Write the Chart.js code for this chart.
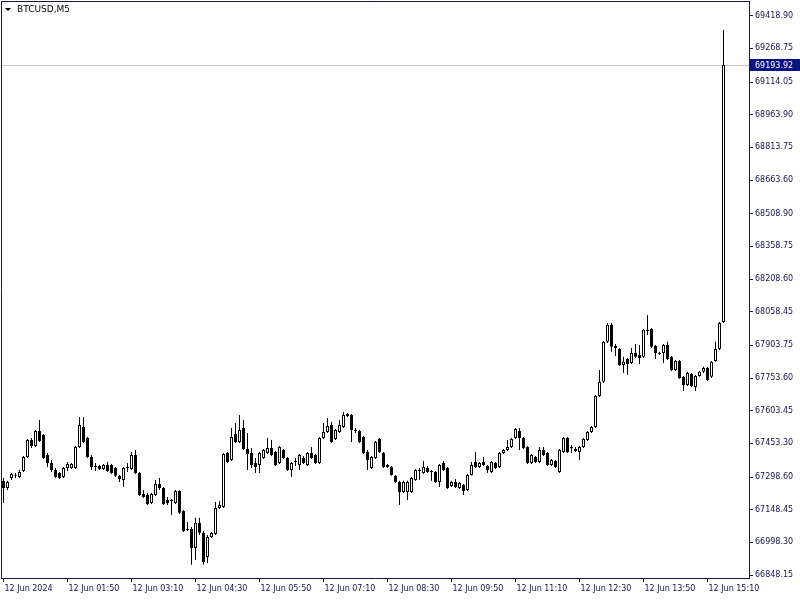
<!DOCTYPE html>
<html>
<head>
<meta charset="utf-8">
<title>BTCUSD,M5</title>
<script src="https://cdn.jsdelivr.net/npm/chart.js@4.4.1/dist/chart.umd.min.js"></script>
<style>
  html, body { margin: 0; padding: 0; background: #ffffff; }
  #wrap { width: 800px; height: 600px; }
</style>
</head>
<body>
<div id="wrap"><canvas id="chart" width="800" height="600"></canvas></div>
<script>
// BTCUSD M5 candles, 12 Jun 2024 00:30 .. 15:30 (one entry per bar)
const SYMBOL = "BTCUSD,M5";

const OPEN = [
  67281, 67248, 67294, 67304, 67299, 67326, 67391, 67469, 67441, 67510,
  67492, 67400, 67363, 67331, 67317, 67299, 67340, 67340, 67340, 67437,
  67529, 67478, 67391, 67345, 67349, 67336, 67354, 67354, 67340, 67304,
  67285, 67340, 67336, 67400, 67317, 67221, 67216, 67179, 67216, 67267,
  67248, 67193, 67193, 67179, 67235, 67143, 67060, 67060, 66973, 67088,
  67042, 66931, 67023, 67037, 67156, 67161, 67409, 67377, 67497, 67460,
  67524, 67428, 67409, 67363, 67354, 67386, 67409, 67432, 67414, 67363,
  67423, 67386, 67331, 67368, 67354, 67386, 67354, 67409, 67400, 67363,
  67478, 67506, 67538, 67474, 67506, 67529, 67579, 67584, 67515, 67510,
  67483, 67414, 67340, 67386, 67474, 67409, 67354, 67345, 67304, 67276,
  67230, 67230, 67230, 67285, 67326, 67317, 67340, 67326, 67322, 67276,
  67363, 67340, 67258, 67276, 67248, 67262, 67239, 67308, 67368, 67345,
  67368, 67349, 67322, 67363, 67345, 67409, 67423, 67437, 67478, 67510,
  67478, 67437, 67363, 67391, 67368, 67423, 67409, 67354, 67372, 67322,
  67414, 67478, 67432, 67428, 67414, 67437, 67469, 67506, 67529, 67671,
  67736, 67920, 67998, 67901, 67887, 67814, 67841, 67823, 67869, 67860,
  67851, 67975, 67979, 67901, 67869, 67869, 67906, 67851, 67791, 67832,
  67759, 67722, 67772, 67713, 67763, 67782, 67800, 67759, 67832, 67887,
  68011
];
const HIGH = [
  67294, 67281, 67317, 67317, 67331, 67395, 67474, 67478, 67515, 67561,
  67497, 67409, 67377, 67340, 67322, 67345, 67368, 67363, 67441, 67575,
  67575, 67483, 67400, 67363, 67354, 67359, 67368, 67359, 67345, 67308,
  67345, 67363, 67414, 67423, 67322, 67239, 67225, 67225, 67285, 67294,
  67253, 67207, 67198, 67239, 67239, 67147, 67092, 67069, 67111, 67111,
  67051, 67032, 67046, 67184, 67189, 67409, 67414, 67524, 67547, 67584,
  67561, 67501, 67432, 67386, 67414, 67428, 67478, 67469, 67418, 67441,
  67428, 67391, 67368, 67386, 67405, 67395, 67414, 67437, 67405, 67483,
  67547, 67570, 67552, 67519, 67561, 67598, 67593, 67588, 67524, 67515,
  67487, 67423, 67395, 67464, 67478, 67414, 67359, 67349, 67308, 67281,
  67281, 67281, 67299, 67336, 67340, 67372, 67349, 67331, 67326, 67359,
  67372, 67345, 67281, 67290, 67276, 67267, 67313, 67368, 67414, 67368,
  67391, 67354, 67372, 67368, 67414, 67428, 67469, 67478, 67524, 67524,
  67483, 67441, 67405, 67395, 67437, 67437, 67414, 67382, 67377, 67428,
  67483, 67483, 67446, 67437, 67441, 67478, 67510, 67533, 67676, 67791,
  67924, 68007, 68007, 67910, 67892, 67851, 67846, 67892, 67910, 67906,
  67979, 68043, 67984, 67906, 67874, 67910, 67920, 67855, 67837, 67837,
  67763, 67782, 67777, 67768, 67786, 67805, 67805, 67832, 67920, 68011,
  69353
];
const LOW = [
  67179, 67239, 67285, 67294, 67294, 67322, 67386, 67432, 67437, 67460,
  67382, 67345, 67322, 67294, 67290, 67294, 67326, 67336, 67336, 67432,
  67455, 67386, 67331, 67326, 67331, 67331, 67322, 67313, 67299, 67276,
  67253, 67322, 67331, 67313, 67212, 67202, 67170, 67175, 67212, 67239,
  67170, 67170, 67124, 67175, 67129, 67046, 67051, 66895, 66918, 67032,
  66895, 66904, 67019, 67032, 67152, 67156, 67363, 67372, 67455, 67455,
  67423, 67331, 67340, 67317, 67317, 67382, 67405, 67395, 67349, 67359,
  67382, 67326, 67299, 67349, 67331, 67359, 67349, 67382, 67359, 67359,
  67474, 67501, 67455, 67469, 67501, 67524, 67575, 67460, 67501, 67455,
  67405, 67331, 67336, 67382, 67409, 67340, 67340, 67304, 67271, 67170,
  67225, 67193, 67225, 67281, 67285, 67313, 67317, 67281, 67271, 67253,
  67326, 67244, 67253, 67248, 67244, 67216, 67235, 67304, 67340, 67340,
  67349, 67317, 67317, 67336, 67340, 67405, 67418, 67432, 67474, 67423,
  67428, 67359, 67359, 67363, 67363, 67395, 67349, 67349, 67340, 67317,
  67409, 67409, 67409, 67414, 67377, 67432, 67464, 67501, 67524, 67667,
  67731, 67915, 67874, 67855, 67809, 67777, 67768, 67818, 67846, 67818,
  67846, 67952, 67892, 67841, 67860, 67823, 67837, 67786, 67786, 67750,
  67694, 67717, 67713, 67694, 67759, 67777, 67740, 67754, 67828, 67883,
  68007
];
const CLOSE = [
  67248, 67276, 67313, 67308, 67322, 67391, 67469, 67441, 67510, 67464,
  67386, 67363, 67331, 67299, 67294, 67340, 67359, 67359, 67437, 67538,
  67460, 67391, 67345, 67349, 67336, 67354, 67326, 67317, 67304, 67290,
  67340, 67345, 67400, 67317, 67216, 67207, 67175, 67221, 67267, 67248,
  67175, 67179, 67189, 67235, 67134, 67051, 67055, 66973, 67088, 67042,
  66908, 67023, 67042, 67156, 67170, 67405, 67368, 67483, 67460, 67515,
  67428, 67405, 67354, 67345, 67409, 67423, 67432, 67400, 67354, 67437,
  67386, 67331, 67363, 67372, 67400, 67363, 67409, 67386, 67363, 67478,
  67506, 67533, 67460, 67515, 67538, 67584, 67588, 67515, 67510, 67460,
  67409, 67377, 67391, 67460, 67414, 67345, 67345, 67308, 67276, 67230,
  67276, 67276, 67294, 67331, 67331, 67345, 67322, 67322, 67276, 67354,
  67331, 67248, 67276, 67253, 67271, 67235, 67308, 67354, 67345, 67363,
  67354, 67331, 67368, 67340, 67409, 67423, 67437, 67474, 67519, 67478,
  67432, 67363, 67400, 67368, 67423, 67400, 67354, 67377, 67345, 67423,
  67478, 67414, 67437, 67418, 67437, 67474, 67506, 67529, 67671, 67736,
  67920, 67998, 67897, 67892, 67814, 67828, 67818, 67869, 67851, 67846,
  67975, 67970, 67897, 67869, 67864, 67906, 67841, 67791, 67832, 67754,
  67722, 67777, 67717, 67763, 67782, 67800, 67745, 67828, 67887, 68007,
  69193.92
];

const LAST_PRICE = 69193.92;

// price scale labels (top to bottom)
const PRICE_TICKS = [
  69418.90, 69268.75, 69114.05, 68963.90, 68813.75, 68663.60, 68508.90, 68358.75, 68208.60,
  68058.45, 67903.75, 67753.60, 67603.45, 67453.30, 67298.60, 67148.45, 66998.30, 66848.15
];
const PRICE_MIN = 66834.6;
const PRICE_MAX = 69486.5;

// time scale labels: bar index -> text
const TIME_TICK_BARS = [0, 16, 32, 48, 64, 80, 96, 112, 128, 144, 160, 176];
const TIME_LABELS = [
  "12 Jun 2024", "12 Jun 01:50", "12 Jun 03:10", "12 Jun 04:30", "12 Jun 05:50", "12 Jun 07:10",
  "12 Jun 08:30", "12 Jun 09:50", "12 Jun 11:10", "12 Jun 12:30", "12 Jun 13:50", "12 Jun 15:10"
];

const AXIS_COLOR = "#141446";
const TEXT_COLOR = "#141446";
const ASK_BG = "#0a1480";

// ── datasets built from the arrays ────────────────────────────────────────────
const wicks  = HIGH.map((h, i) => ({ x: i, y: [LOW[i], h] }));
const bodies = OPEN.map((o, i) => ({ x: i, y: [Math.min(o, CLOSE[i]), Math.max(o, CLOSE[i])] }));
const bodyFill = OPEN.map((o, i) => (CLOSE[i] >= o ? "#ffffff" : "#000000"));

Chart.defaults.font.family = "'DejaVu Sans', Verdana, sans-serif";
Chart.defaults.font.size = 8;
Chart.defaults.color = TEXT_COLOR;

// frame, last-price line and label, symbol caption
const mtOverlay = {
  id: "mtOverlay",
  beforeDatasetsDraw(chart) {
    const { ctx, chartArea: a, scales: { y } } = chart;
    const py = Math.round(y.getPixelForValue(LAST_PRICE)) + 0.5;
    ctx.save();
    ctx.strokeStyle = "#c8c8c8";
    ctx.lineWidth = 1;
    ctx.beginPath();
    ctx.moveTo(a.left, py);
    ctx.lineTo(a.right, py);
    ctx.stroke();
    ctx.restore();
  },
  afterDraw(chart) {
    const { ctx, chartArea: a, scales: { y } } = chart;
    ctx.save();
    ctx.strokeStyle = AXIS_COLOR;
    ctx.lineWidth = 1;
    ctx.beginPath();
    ctx.moveTo(a.left + 0.5, a.bottom);
    ctx.lineTo(a.left + 0.5, a.top + 0.5);
    ctx.lineTo(a.right, a.top + 0.5);
    ctx.stroke();

    // last price box on the price scale
    const py = Math.round(y.getPixelForValue(LAST_PRICE));
    ctx.fillStyle = ASK_BG;
    ctx.fillRect(a.right + 1, py - 6, 800 - a.right - 1, 12);
    ctx.fillStyle = "#ffffff";
    ctx.font = "8px 'DejaVu Sans', Verdana, sans-serif";
    ctx.textBaseline = "middle";
    ctx.textAlign = "left";
    ctx.fillText(LAST_PRICE.toFixed(2), a.right + 6, py + 0.5);

    // symbol caption
    ctx.fillStyle = "#000000";
    ctx.beginPath();
    ctx.moveTo(5, 8);
    ctx.lineTo(11, 8);
    ctx.lineTo(8, 11);
    ctx.closePath();
    ctx.fill();
    ctx.font = "9px 'DejaVu Sans', Verdana, sans-serif";
    ctx.fillText(SYMBOL, 17, 10);
    ctx.restore();
  }
};

new Chart(document.getElementById("chart").getContext("2d"), {
  type: "bar",
  data: {
    datasets: [
      {
        label: "wick",
        data: wicks,
        backgroundColor: "#000000",
        borderWidth: 0,
        barThickness: 1,
        grouped: false,
        inflateAmount: 0,
        order: 2,
      },
      {
        label: "body",
        data: bodies,
        backgroundColor: bodyFill,
        borderColor: "#000000",
        borderWidth: 1,
        borderSkipped: false,
        barThickness: 3,
        grouped: false,
        inflateAmount: 0,
        order: 1,
      },
    ],
  },
  options: {
    responsive: false,
    animation: false,
    events: [],
    layout: { padding: { top: 1, left: 1, right: 0, bottom: 0 } },
    plugins: { legend: { display: false }, tooltip: { enabled: false } },
    scales: {
      x: {
        type: "linear",
        min: -0.625,
        max: 186.375,
        offset: false,
        afterBuildTicks: s => { s.ticks = TIME_TICK_BARS.map(v => ({ value: v })); },
        afterFit: s => { s.height = 22; s.paddingLeft = 0; s.paddingRight = 0; },
        ticks: {
          autoSkip: false,
          maxRotation: 0,
          minRotation: 0,
          align: "start",
          padding: 2,
          labelOffset: 1,
          color: TEXT_COLOR,
          callback: (v, i) => TIME_LABELS[i],
        },
        grid: { offset: false, drawOnChartArea: false, drawTicks: true, tickLength: 4, color: AXIS_COLOR },
        border: { display: true, color: AXIS_COLOR },
      },
      y: {
        type: "linear",
        position: "right",
        min: PRICE_MIN,
        max: PRICE_MAX,
        afterBuildTicks: s => { s.ticks = PRICE_TICKS.slice().reverse().map(v => ({ value: v })); },
        afterFit: s => { s.width = 51; s.paddingTop = 0; s.paddingBottom = 0; },
        ticks: {
          autoSkip: false,
          padding: 2,
          color: TEXT_COLOR,
          callback: v => Number(v).toFixed(2),
        },
        grid: { drawOnChartArea: false, drawTicks: true, tickLength: 4, color: AXIS_COLOR },
        border: { display: true, color: AXIS_COLOR },
      },
    },
  },
  plugins: [mtOverlay],
});
</script>
</body>
</html>
